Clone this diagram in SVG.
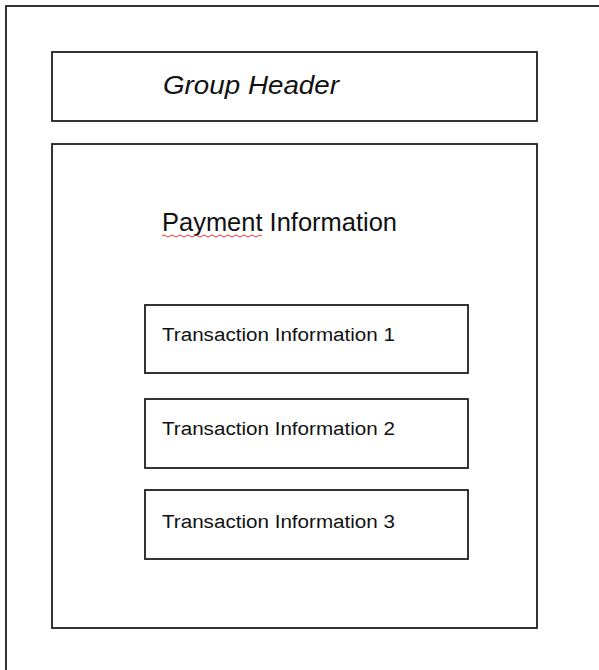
<svg xmlns="http://www.w3.org/2000/svg" width="599" height="670" viewBox="0 0 599 670">
<style>
.box{fill:#fff;stroke:#1e1e1e;stroke-width:1.8}
.t{font-family:"Liberation Sans",Arial,sans-serif;fill:#111}
</style>
<rect width="599" height="670" fill="#fff"/>
<g id="outer"><rect class="box" x="6" y="6" width="620" height="700"/></g>
<g id="group-header">
<rect class="box" x="52" y="52" width="485" height="69"/>
<text class="t" x="163" y="94" font-size="25" font-style="italic" textLength="176" lengthAdjust="spacingAndGlyphs">Group Header</text>
</g>
<g id="payment-information">
<rect class="box" x="52" y="144" width="485" height="484"/>
<text class="t" x="162" y="231" font-size="25" textLength="235" lengthAdjust="spacingAndGlyphs">Payment Information</text>
<path d="M162,236 q2,-2 4,0 t4,0 t4,0 t4,0 t4,0 t4,0 t4,0 t4,0 t4,0 t4,0 t4,0 t4,0 t4,0 t4,0 t4,0 t4,0 t4,0 t4,0 t4,0 t4,0 t4,0 t4,0 t4,0 t4,0 t4,0" fill="none" stroke="#e33" stroke-width="1"/>
</g>
<g id="transaction-1">
<rect class="box" x="145" y="305" width="323" height="68"/>
<text class="t" x="162" y="341" font-size="18" textLength="233" lengthAdjust="spacingAndGlyphs">Transaction Information 1</text>
</g>
<g id="transaction-2">
<rect class="box" x="145" y="399" width="323" height="69"/>
<text class="t" x="162" y="435" font-size="18" textLength="233" lengthAdjust="spacingAndGlyphs">Transaction Information 2</text>
</g>
<g id="transaction-3">
<rect class="box" x="145" y="490" width="323" height="69"/>
<text class="t" x="162" y="528" font-size="18" textLength="233" lengthAdjust="spacingAndGlyphs">Transaction Information 3</text>
</g>
<g id="connectors"></g>
</svg>
